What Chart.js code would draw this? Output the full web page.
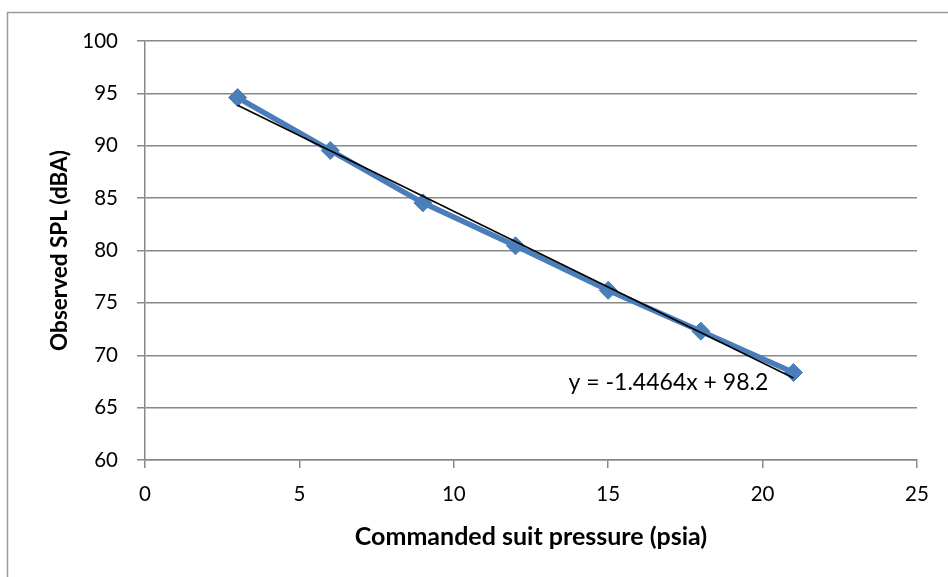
<!DOCTYPE html>
<html>
<head>
<meta charset="utf-8">
<script src="https://cdn.jsdelivr.net/npm/chart.js@4/dist/chart.umd.min.js"></script>
<style>
  html, body { margin: 0; padding: 0; background: #ffffff; }
  #wrap { width: 948px; height: 577px; position: relative; }
</style>
</head>
<body>
<div id="wrap"><canvas id="c" width="948" height="577"></canvas></div>
<script>
// ---- data ----
const pressurePsia = [3, 6, 9, 12, 15, 18, 21];
const observedSplDba = [94.6, 89.55, 84.55, 80.45, 76.2, 72.3, 68.35];
const trendSlope = -1.4464;
const trendIntercept = 98.2;
const trendLabel = 'y = -1.4464x + 98.2';
const xTitle = 'Commanded suit pressure (psia)';
const yTitle = 'Observed SPL (dBA)';

const FONT = 'Lato, "Open Sans", sans-serif';
const GRID = '#888888';

const seriesPoints = pressurePsia.map((x, i) => ({ x: x, y: observedSplDba[i] }));
const trendX = [pressurePsia[0], pressurePsia[pressurePsia.length - 1]];
const trendPoints = trendX.map(x => ({ x: x, y: trendSlope * x + trendIntercept }));

const frame = {
  id: 'frame',
  beforeDraw(chart) {
    const ctx = chart.ctx;
    ctx.save();
    ctx.fillStyle = '#ffffff';
    ctx.fillRect(0, 0, chart.width, chart.height);
    ctx.strokeStyle = '#9a9a9a';
    ctx.lineWidth = 1.5;
    ctx.strokeRect(7.5, 12.5, chart.width + 20, chart.height + 20);
    ctx.restore();
  }
};

const eqLabel = {
  id: 'eqLabel',
  afterDatasetsDraw(chart) {
    const ctx = chart.ctx;
    const xs = chart.scales.x, ys = chart.scales.y;
    ctx.save();
    ctx.font = '23px ' + FONT;
    ctx.fillStyle = '#000000';
    ctx.textAlign = 'center';
    ctx.textBaseline = 'middle';
    ctx.fillText(trendLabel, xs.getPixelForValue(16.95), ys.getPixelForValue(67.4));
    ctx.restore();
  }
};

new Chart(document.getElementById('c'), {
  type: 'line',
  data: {
    datasets: [
      {
        label: 'Linear trend',
        data: trendPoints,
        borderColor: '#000000',
        borderWidth: 1.6,
        pointRadius: 0,
        fill: false,
        tension: 0
      },
      {
        label: 'Observed SPL',
        data: seriesPoints,
        borderColor: '#4A7EBB',
        backgroundColor: '#4A7EBB',
        borderWidth: 5.5,
        pointStyle: 'rectRot',
        pointRadius: 9,
        pointBorderWidth: 1,
        pointBackgroundColor: '#4A7EBB',
        pointBorderColor: '#4A7EBB',
        fill: false,
        tension: 0
      }
    ]
  },
  options: {
    responsive: false,
    animation: false,
    devicePixelRatio: 1,
    layout: { padding: { left: 0, right: 31, top: 41, bottom: 0 } },
    plugins: {
      legend: { display: false },
      tooltip: { enabled: false }
    },
    scales: {
      x: {
        type: 'linear',
        min: 0, max: 25,
        afterFit(s) { s.height = 117; },
        ticks: { stepSize: 5, color: '#000000', font: { family: FONT, size: 20.5 }, padding: 14, maxRotation: 0 },
        grid: { drawOnChartArea: false, drawTicks: true, tickLength: 8, color: GRID, lineWidth: 1.5 },
        border: { display: true, color: GRID, width: 1.5 },
        title: { display: true, text: xTitle, color: '#000000', font: { family: FONT, size: 25, weight: 'bold' }, padding: { top: 0, bottom: 25 } }
      },
      y: {
        type: 'linear',
        min: 60, max: 100,
        afterFit(s) { s.width = 145; },
        ticks: { stepSize: 5, color: '#000000', font: { family: FONT, size: 20.5 }, padding: 19 },
        grid: { drawOnChartArea: true, drawTicks: true, tickLength: 8, color: GRID, lineWidth: 1.5 },
        border: { display: true, color: GRID, width: 1.5 },
        title: { display: true, text: yTitle, color: '#000000', font: { family: FONT, size: 22.5, weight: 'bold' }, padding: { top: 46.5, bottom: 0 } }
      }
    }
  },
  plugins: [frame, eqLabel]
});
</script>
</body>
</html>
